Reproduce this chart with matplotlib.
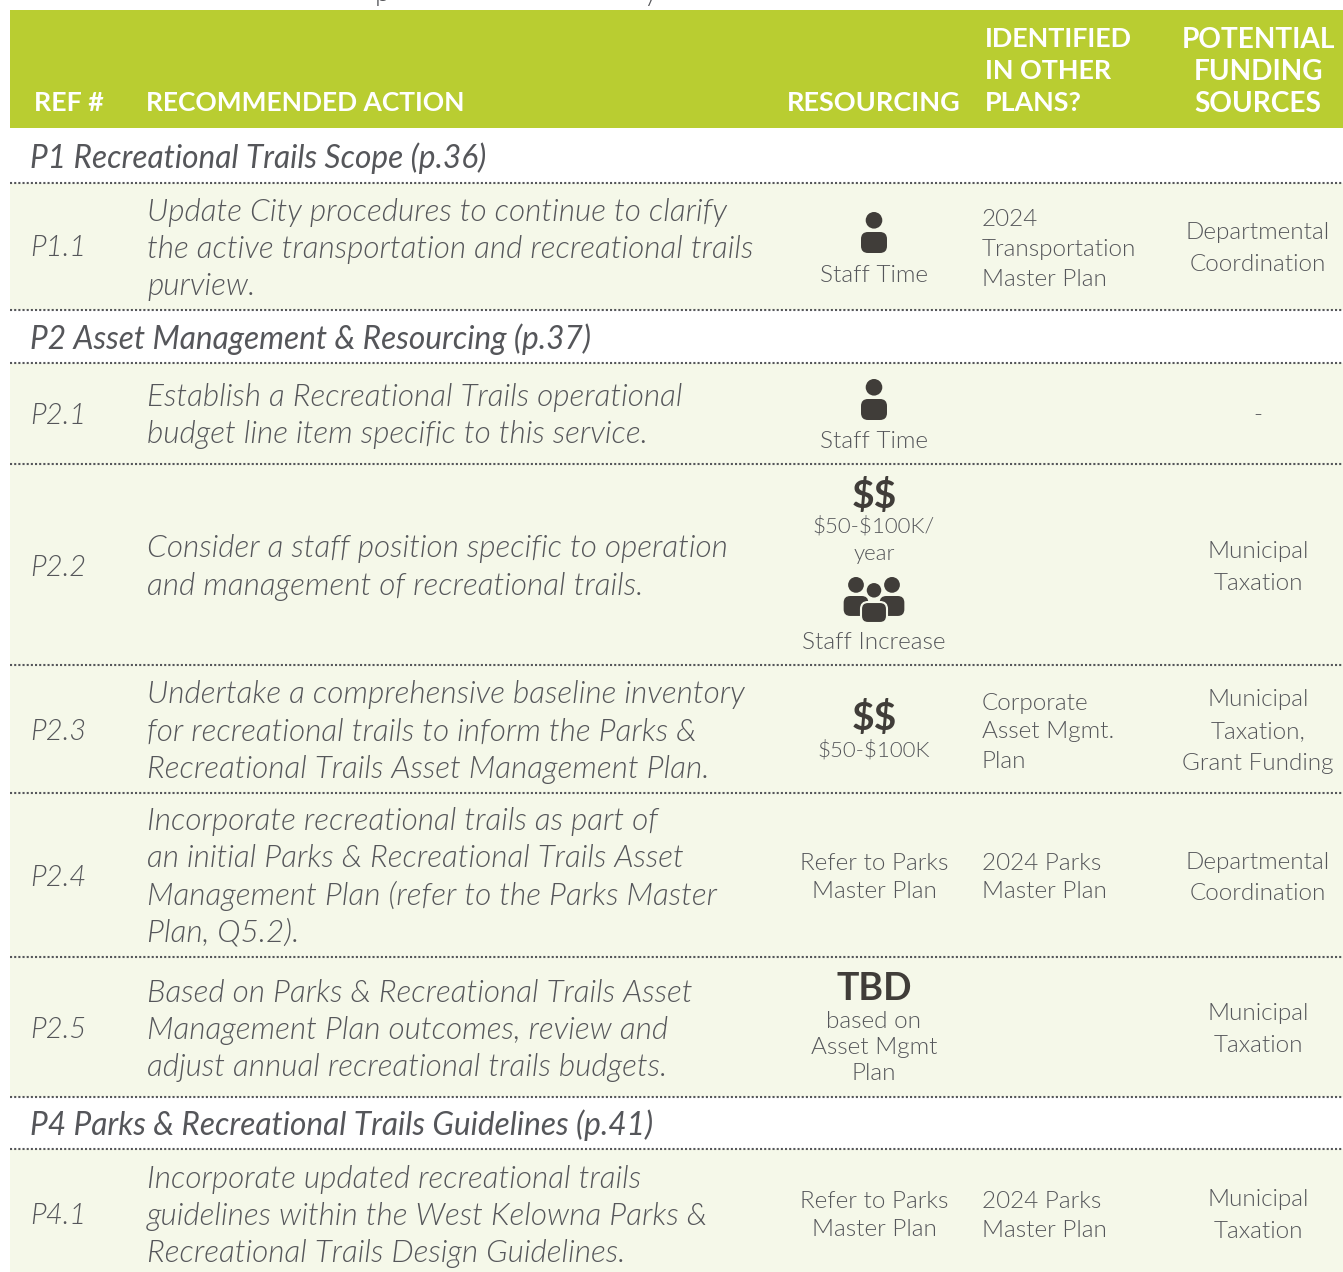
from matplotlib import pyplot as plt
from matplotlib.patches import Circle, FancyBboxPatch, Rectangle

W, H = 1343, 1272
GREEN = '#b9cd31'
TINT = '#f5f8e9'
DARK = '#403d39'
GREY = '#55565a'

plt.rcParams['font.family'] = ['Lato', 'DejaVu Sans']

# Table contents
header_ref = 'REF #'
header_action = 'RECOMMENDED ACTION'
header_resourcing = 'RESOURCING'
header_plans = ['IDENTIFIED', 'IN OTHER', 'PLANS?']
header_funding = ['POTENTIAL', 'FUNDING', 'SOURCES']

section_titles = ['P1 Recreational Trails Scope (p.36)',
                  'P2 Asset Management & Resourcing (p.37)',
                  'P4 Parks & Recreational Trails Guidelines (p.41)']

refs = ['P1.1', 'P2.1', 'P2.2', 'P2.3', 'P2.4', 'P2.5', 'P4.1']
actions = [
    ['Update City procedures to continue to clarify',
     'the active transportation and recreational trails', 'purview.'],
    ['Establish a Recreational Trails operational',
     'budget line item specific to this service.'],
    ['Consider a staff position specific to operation',
     'and management of recreational trails.'],
    ['Undertake a comprehensive baseline inventory',
     'for recreational trails to inform the Parks &',
     'Recreational Trails Asset Management Plan.'],
    ['Incorporate recreational trails as part of',
     'an initial Parks & Recreational Trails Asset',
     'Management Plan (refer to the Parks Master', 'Plan, Q5.2).'],
    ['Based on Parks & Recreational Trails Asset',
     'Management Plan outcomes, review and',
     'adjust annual recreational trails budgets.'],
    ['Incorporate updated recreational trails',
     'guidelines within the West Kelowna Parks &',
     'Recreational Trails Design Guidelines.'],
]
other_plans = [['2024', 'Transportation', 'Master Plan'], [], [],
               ['Corporate', 'Asset Mgmt.', 'Plan'],
               ['2024 Parks', 'Master Plan'], [],
               ['2024 Parks', 'Master Plan']]
funding = [['Departmental', 'Coordination'], ['-'],
           ['Municipal', 'Taxation'],
           ['Municipal', 'Taxation,', 'Grant Funding'],
           ['Departmental', 'Coordination'],
           ['Municipal', 'Taxation'], ['Municipal', 'Taxation']]

# Layout, in pixels of the page
rule_ys = [182.5, 310, 363, 463.5, 665, 793, 957, 1097, 1149]
section_ys = [157, 338, 1124]
ref_ys = [247, 414, 566, 730, 876, 1028, 1214]
action_ys = [248, 414.5, 566, 730.5, 876, 1029, 1215]
plans_ys = [247.5, 0, 0, 730.5, 876, 0, 1214.5]
funding_ys = [247, 414.5, 566, 730, 876.5, 1028, 1214]
plans_step = [30, 0, 0, 29, 29, 0, 29]
funding_step = [31.5, 0, 32, 31.5, 31.5, 32, 32]
tinted = [(183, 310), (363, 1097), (1149, 1272)]
TEXT_SHIFT = 1.5
BODY = 17.5


def label(ax, x, y, s, size, color=GREY, ha='center', **kwargs):
    kwargs.setdefault('weight', 300)
    ax.text(x, y + TEXT_SHIFT, s, fontsize=size, color=color, ha=ha,
            va='center', parse_math=False, **kwargs)


def stacked(ax, x, y, lines, step, size, ha='center', **kwargs):
    top = y - step * (len(lines) - 1) / 2
    for i, line in enumerate(lines):
        label(ax, x, top + i * step, line, size, ha=ha, **kwargs)


def person(ax, x, y, scale=1.0, zorder=3, edge='none'):
    # y is the top of the head
    ax.add_patch(Circle((x, y + 8.3 * scale), 8.3 * scale, fc=DARK, ec=edge,
                        lw=1.5, zorder=zorder))
    ax.add_patch(FancyBboxPatch(
        (x - 7 * scale, y + 26 * scale), 14 * scale, 9 * scale,
        boxstyle='round,pad={},rounding_size={}'.format(6 * scale, 7 * scale),
        fc=DARK, ec=edge, lw=1.5, zorder=zorder))


def staff_time(ax, y):
    person(ax, 874, y)
    label(ax, 874, y + 61.5, 'Staff Time', BODY)


fig = plt.figure(figsize=(W / 100, H / 100), dpi=100)
ax = fig.add_axes([0, 0, 1, 1])
ax.set_xlim(0, W)
ax.set_ylim(H, 0)
ax.axis('off')

# Tail ends of the line of text cut off above the table
label(ax, 382, -8, 'p', 20, clip_on=True)
label(ax, 650, -8, 'y', 20, clip_on=True)

ax.add_patch(Rectangle((10, 10), W - 10, 118, color=GREEN, lw=0))
for top, bottom in tinted:
    ax.add_patch(Rectangle((10, top), W - 10, bottom - top, color=TINT, lw=0))
for y in rule_ys:
    ax.plot([10, W], [y, y], color=GREY, lw=1.5,
            dashes=(1, 1), dash_capstyle='butt', zorder=2)

# Header
head = dict(color='white', weight='bold')
label(ax, 33.5, 101.5, header_ref, 19.3, ha='left', **head)
label(ax, 146, 101.5, header_action, 19, ha='left', **head)
label(ax, 874, 101.5, header_resourcing, 19.5, **head)
stacked(ax, 985, 69.5, header_plans, 32, 19.4, ha='left', **head)
stacked(ax, 1258, 70, header_funding, 32, 20.2, **head)

for y, title in zip(section_ys, section_titles):
    label(ax, 30.5, y, title, 22.8, ha='left', style='italic', weight=400)

for i, ref in enumerate(refs):
    label(ax, 30.5, ref_ys[i], ref, 21, ha='left', style='italic')
    stacked(ax, 147, action_ys[i], actions[i], 37.3, 22.7, ha='left',
            style='italic')
    if other_plans[i]:
        stacked(ax, 982, plans_ys[i], other_plans[i], plans_step[i], BODY,
                ha='left')
    stacked(ax, 1258, funding_ys[i], funding[i], funding_step[i], BODY)

# Resourcing column
staff_time(ax, 212)
staff_time(ax, 379)

label(ax, 874, 494, '$$', 28, color=DARK, weight='bold')
stacked(ax, 874, 539, ['$50-$100K/', 'year'], 28, 16)
person(ax, 856, 577, 0.95)
person(ax, 892, 577, 0.95)
person(ax, 874, 582, 1.0, zorder=4, edge=TINT)
label(ax, 874, 641, 'Staff Increase', BODY)

label(ax, 874, 717, '$$', 28, color=DARK, weight='bold')
label(ax, 874, 749, '$50-$100K', 16)

stacked(ax, 874, 876, ['Refer to Parks', 'Master Plan'], 27, BODY)
stacked(ax, 874, 1214, ['Refer to Parks', 'Master Plan'], 27, BODY)

label(ax, 874, 988, 'TBD', 27, color=DARK, weight='bold')
stacked(ax, 874, 1046, ['based on', 'Asset Mgmt', 'Plan'], 26.5, BODY)

fig.savefig('out.png', dpi=100, facecolor='white')
plt.close()
